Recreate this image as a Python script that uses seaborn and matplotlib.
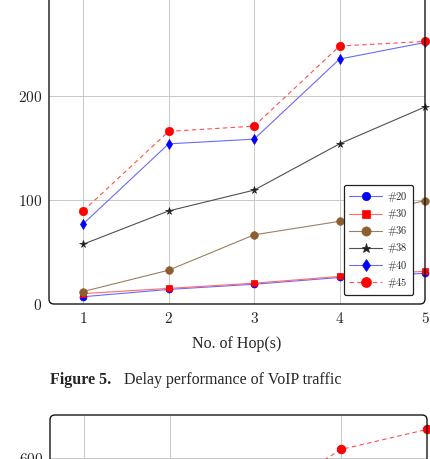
import matplotlib
matplotlib.use("Agg")
import matplotlib.pyplot as plt
import seaborn as sns
import pandas as pd
from matplotlib.patches import FancyBboxPatch
from matplotlib.transforms import IdentityTransform

# ---------------- data ----------------
hops = [1, 2, 3, 4, 5]
s20 = [7, 14, 19, 25.5, 29.5]
s30 = [10, 15, 20, 26.5, 31.5]
s36 = [12, 32.5, 66.5, 79.5, 99.5]
s38 = [57.5, 89.5, 109.5, 154, 189.5]
s40 = [77, 154, 158.5, 235.5, 251.5]
s45 = [89.5, 166, 171, 248, 252.5]
series_names = ["#20", "#30", "#36", "#38", "#40", "#45"]

y_ticks = [0, 100, 200]
x_ticks = [1, 2, 3, 4, 5]

# second (partially visible) figure
hops2 = [3, 4, 5]
s45_b = [527, 615, 648]
x_ticks2 = [1, 2, 4, 5]
y_ticks2 = [600]

x_label = "No. of Hop(s)"
caption_bold = "Figure 5."
caption_text = "Delay performance of VoIP traffic"

# ---------------- style ----------------
sns.set_theme(style="white")
plt.rcParams["font.family"] = ["Liberation Serif", "DejaVu Serif"]
plt.rcParams["mathtext.fontset"] = "cm"

W, H = 431, 459
fig = plt.figure(figsize=(W / 100, H / 100), dpi=100)
fig.patch.set_facecolor("white")

def px_axes(left, right, top, bottom):
    return fig.add_axes([left / W, (H - bottom) / H, (right - left) / W, (bottom - top) / H])

ax = px_axes(49, 425, -8, 304)
ax2 = px_axes(50, 427, 415, 615)

styles = [
    dict(color="#0000ff", marker="o", ms=5.0, ls="-"),
    dict(color="#ff0000", marker="s", ms=5.0, ls="-"),
    dict(color="#8c5f30", marker="o", ms=5.5, ls="-"),
    dict(color="#202020", marker="*", ms=5.5, ls="-"),
    dict(color="#0000ff", marker="d", ms=5.0, ls="-"),
    dict(color="#ff0000", marker="o", ms=6.0, ls=(0, (4, 3))),
]
line_colors = ["#6a6aff", "#ff6a6a", "#9a8060", "#505050", "#6a6aff", "#ff5050"]
all_series = [s20, s30, s36, s38, s40, s45]

for name, vals, st, lc in zip(series_names, all_series, styles, line_colors):
    df = pd.DataFrame({"hop": hops, "val": vals})
    sns.lineplot(data=df, x="hop", y="val", ax=ax, color=lc, linewidth=0.8,
                 linestyle=st["ls"], marker=st["marker"], markersize=st["ms"],
                 markerfacecolor=st["color"], markeredgecolor=st["color"],
                 markeredgewidth=0.5, label=name, clip_on=False, zorder=3)

ax.set_xlim(0.6, 5.0)
ax.set_ylim(0, 300)
ax.set_xticks(x_ticks)
ax.set_xticklabels([f"${t}$" for t in x_ticks], fontsize=11)
ax.set_yticks(y_ticks)
ax.set_yticklabels([f"${t}$" for t in y_ticks], fontsize=11)
ax.grid(True, color="#c8c8c8", linewidth=0.7)
ax.tick_params(direction="in", length=3, width=0.6, color="#555555", pad=5)
ax.set_xlabel(x_label, fontsize=11.5, labelpad=7)
ax.set_ylabel("")
for sp in ax.spines.values():
    sp.set_visible(False)

leg = ax.legend(loc="lower right", bbox_to_anchor=(0.968, 0.029), fontsize=7.5,
                frameon=True, fancybox=True, framealpha=1, edgecolor="#202020",
                handlelength=3.2, labelspacing=0.3, borderpad=0.5,
                handletextpad=0.45, borderaxespad=0, markerscale=1.2)
leg.get_frame().set_linewidth(0.9)
for t, n in zip(leg.get_texts(), series_names):
    t.set_text(r"$\#" + n[1:] + "$")

# second chart
df2 = pd.DataFrame({"hop": hops2, "val": s45_b})
sns.lineplot(data=df2, x="hop", y="val", ax=ax2, color="#ff5050", linewidth=0.8,
             linestyle=(0, (4, 3)), marker="o", markersize=6.0,
             markerfacecolor="#ff0000", markeredgecolor="#ff0000",
             clip_on=False, zorder=3, legend=False)
ax2.set_xlim(0.6, 5.0)
ax2.set_ylim(340, 672)
ax2.set_xticks(x_ticks2)
ax2.set_xticklabels([])
ax2.set_yticks(y_ticks2)
ax2.set_yticklabels([f"${t}$" for t in y_ticks2], fontsize=11)
ax2.grid(True, color="#c8c8c8", linewidth=0.7)
ax2.tick_params(direction="in", length=3, width=0.6, color="#555555", pad=5)
ax2.set_xlabel("")
ax2.set_ylabel("")
for sp in ax2.spines.values():
    sp.set_visible(False)

# rounded frames (pixel coordinates)
for (l, r, t, b) in [(49, 425, -8, 304), (50, 427, 415, 615)]:
    fr = FancyBboxPatch((l, H - b), r - l, b - t, boxstyle="round,pad=0,rounding_size=5",
                        transform=IdentityTransform(), fill=False,
                        edgecolor="#151515", linewidth=1.0, zorder=10)
    fig.add_artist(fr)

# caption
fig.text(50 / W, 1 - 380 / H, caption_bold, fontsize=11.5, fontweight="bold", va="center", ha="left")
fig.text(124 / W, 1 - 380 / H, caption_text, fontsize=11.5, va="center", ha="left")

fig.savefig("out.png", dpi=100)
